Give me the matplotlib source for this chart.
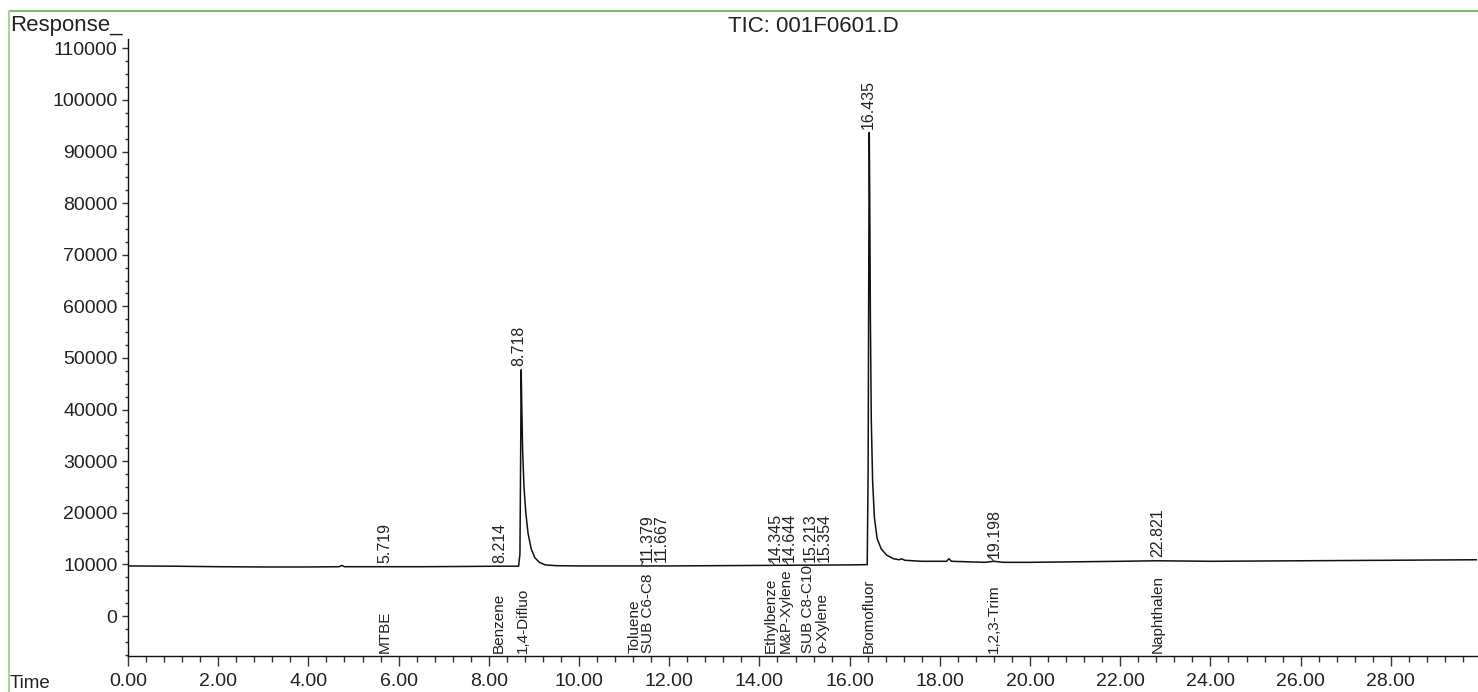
import matplotlib
matplotlib.use("Agg")
import numpy as np
import matplotlib.pyplot as plt
from matplotlib.lines import Line2D
from matplotlib.ticker import MultipleLocator, FormatStrFormatter
import matplotlib.transforms as mtransforms

plt.rcParams['font.family'] = ['Liberation Sans', 'DejaVu Sans']

# Total ion chromatogram: retention time (min) and detector response
trace_time = [0.00, 1.00, 2.00, 3.00, 4.00, 4.68, 4.74, 4.80, 5.50, 6.50, 7.50, 8.20,
              8.66, 8.69, 8.705, 8.718, 8.73, 8.75, 8.78, 8.82, 8.87, 8.94, 9.02, 9.12,
              9.25, 9.50, 10.00, 11.00, 12.00, 13.00, 14.00, 15.00, 16.00, 16.39,
              16.41, 16.425, 16.435, 16.445, 16.46, 16.48, 16.51, 16.55, 16.61, 16.70,
              16.82, 16.97, 17.10, 17.15, 17.22, 17.60, 18.15, 18.20, 18.26, 19.00,
              19.20, 19.40, 20.00, 21.00, 22.00, 22.82, 24.00, 26.00, 28.00, 29.91]
trace_resp = [9700, 9650, 9550, 9500, 9500, 9550, 9800, 9550, 9550, 9550, 9600, 9650,
              9650, 12000, 30000, 47700, 41000, 32000, 25000, 20000, 16000, 13000, 11300, 10400,
              9900, 9750, 9700, 9700, 9700, 9750, 9800, 9850, 9900, 9950,
              28000, 70000, 93700, 82000, 58000, 38000, 26000, 19000, 15000, 13000,
              11800, 11100, 10900, 11100, 10800, 10600, 10600, 11100, 10600, 10400,
              10600, 10400, 10400, 10500, 10600, 10700, 10600, 10700, 10800, 10900]

# Integrated peaks and their compound names
peak_rt = [5.719, 8.214, 8.718, 11.379, 11.667, 14.345, 14.644, 15.213, 15.354,
           16.435, 19.198, 22.821]
peak_name = ["MTBE", "Benzene", "1,4-Difluo", "Toluene", "SUB C6-C8", "Ethylbenze",
             "M&P-Xylene", "SUB C8-C10", "o-Xylene", "Bromofluor", "1,2,3-Trim",
             "Naphthalen"]

# Horizontal nudges (pixels) that keep crowded labels apart, and which
# retention-time labels get a short leader back to their peak
rt_label_dx = [-1, 1.5, -2, 6, 7, 0, 1, -4, 3.5, -1, 0, 0]
name_label_dx = [-1, 0, 2, -7, -6, -4, -3, -6, 1.5, -1, 0, 0]
rt_label_leader = [False, False, False, True, False, True, True, False, False,
                   False, True, False]

x_ticks_major = 2.0
x_ticks_minor = 0.4
y_ticks_major = 10000
y_ticks_minor = 2500

W, H = 1478, 692
fig = plt.figure(figsize=(W / 100, H / 100), dpi=100)
ax_left, ax_right, ax_top, ax_bottom = 128, 1477, 39, 656
ax = fig.add_axes([ax_left / W, 1 - ax_bottom / H, (ax_right - ax_left) / W,
                   (ax_bottom - ax_top) / H])

ax.plot(trace_time, trace_resp, color='#111111', lw=1.1, solid_joinstyle='round')

ax.set_xlim(0, 29.91)
ax.set_ylim(-7750, 111800)

ax.xaxis.set_major_locator(MultipleLocator(x_ticks_major))
ax.xaxis.set_minor_locator(MultipleLocator(x_ticks_minor))
ax.xaxis.set_major_formatter(FormatStrFormatter('%.2f'))
ax.yaxis.set_major_locator(MultipleLocator(y_ticks_major))
ax.yaxis.set_minor_locator(MultipleLocator(y_ticks_minor))
ax.yaxis.set_major_formatter(FormatStrFormatter('%d'))

for side in ('top', 'right'):
    ax.spines[side].set_visible(False)
for side in ('left', 'bottom'):
    ax.spines[side].set_color('#111111')
    ax.spines[side].set_linewidth(1.0)

ax.tick_params(axis='x', which='major', direction='out', length=7.5, width=1,
               color='#333333', pad=4.5, labelsize=14, labelcolor='#222222')
ax.tick_params(axis='x', which='minor', direction='out', length=4.5, width=1,
               color='#333333')
ax.tick_params(axis='y', which='major', direction='out', length=4.5, width=1,
               color='#333333', pad=3, labelsize=14, labelcolor='#222222')
ax.tick_params(axis='y', which='minor', direction='out', length=2.5, width=1,
               color='#333333')

# Retention-time labels above each peak, compound names along the bottom
ymin = ax.get_ylim()[0]
for rt, name, dx_rt, dx_nm, lead in zip(peak_rt, peak_name, rt_label_dx,
                                        name_label_dx, rt_label_leader):
    apex = np.interp(rt, trace_time, trace_resp)
    win = [r for t, r in zip(trace_time, trace_resp) if abs(t - rt) < 0.02]
    top = max([apex] + win)
    tr = mtransforms.offset_copy(ax.transData, fig=fig, x=dx_rt * 0.72, y=2.5,
                                 units='points')
    ax.text(rt, top, f"{rt:.3f}", rotation=90, ha='center', va='bottom',
            fontsize=11.5, color='#222222', transform=tr)
    if lead:
        ax.annotate("", xy=(rt, top), xycoords='data',
                    xytext=(dx_rt * 0.72 - 3, 3.5), textcoords='offset points',
                    arrowprops=dict(arrowstyle='-', color='#333333', lw=0.8,
                                    shrinkA=0, shrinkB=0))
    tn = mtransforms.offset_copy(ax.transData, fig=fig, x=dx_nm * 0.72, y=2,
                                 units='points')
    ax.text(rt, ymin, name, rotation=90, ha='center', va='bottom',
            fontsize=11, color='#222222', transform=tn)

# Page furniture
fig.text(10 / W, 1 - 26 / H, "Response_", ha='left', va='center', fontsize=16,
         color='#222222')
fig.text(813 / W, 1 - 26 / H, "TIC: 001F0601.D", ha='center', va='center',
         fontsize=16, color='#222222')
fig.text(10 / W, 1 - 683 / H, "Time", ha='left', va='center', fontsize=13.5,
         color='#222222')

frame_col = '#7dbd63'
fig.add_artist(Line2D([9 / W, 1], [1 - 11 / H, 1 - 11 / H], color=frame_col, lw=1.5,
                      transform=fig.transFigure))
fig.add_artist(Line2D([9 / W, 9 / W], [0, 1 - 11 / H], color='#a6d694', lw=1.5,
                      transform=fig.transFigure))

fig.savefig("out.png", dpi=100, facecolor='white')
